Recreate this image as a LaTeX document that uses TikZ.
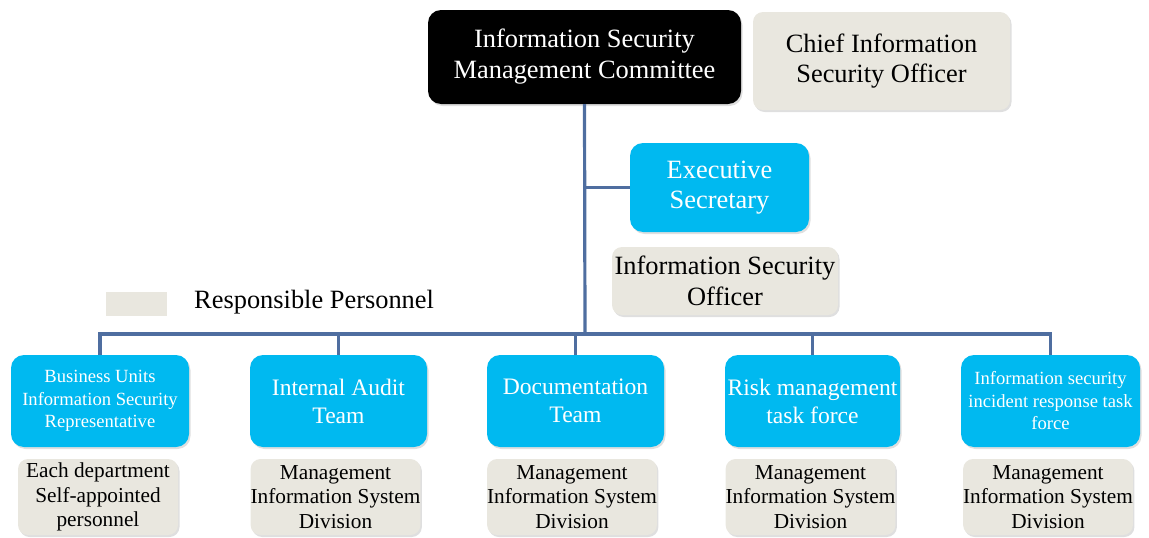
\documentclass[tikz,border=0pt]{standalone}
\usepackage{fontspec}
\setmainfont{Liberation Serif}
\usetikzlibrary{shadows}
\definecolor{boxcyan}{RGB}{0,185,240}
\definecolor{boxbeige}{RGB}{233,231,223}
\definecolor{linkblue}{RGB}{79,110,160}
\tikzset{
  base/.style={rounded corners=13pt, align=center, inner sep=0pt,
    drop shadow={opacity=0.25, shadow xshift=1.5pt, shadow yshift=-2pt}},
  topbox/.style={base, fill=black, text=white, font=\fontsize{26.4}{31}\selectfont},
  cyanbox/.style={base, fill=boxcyan, text=white},
  beigebox/.style={base, rounded corners=10pt, fill=boxbeige, text=black},
  bigtext/.style={font=\fontsize{26.4}{30.5}\selectfont},
  midtext/.style={font=\fontsize{23.6}{28}\selectfont},
  smalltext/.style={font=\fontsize{18.6}{22.5}\selectfont},
  divtext/.style={font=\fontsize{21.3}{24.5}\selectfont},
  link/.style={draw=linkblue, line width=3.2pt}
}
\begin{document}
\begin{tikzpicture}[x=1pt, y=-1pt]
\useasboundingbox (0,0) rectangle (1149,538);

% top level
\node[topbox, minimum width=313pt, minimum height=94pt] (com) at (584.5,57)
  {Information Security\\Management Committee};
\node[beigebox, bigtext, minimum width=257pt, minimum height=98pt] (ciso) at (881.5,61)
  {Chief Information\\Security Officer};

% executive secretary and its officer
\node[cyanbox, bigtext, minimum width=179pt, minimum height=89pt] (exec) at (719.5,187.5)
  {Executive\\Secretary};
\node[beigebox, bigtext, minimum width=226pt, minimum height=68pt] (iso) at (725,281)
  {Information Security\\Officer};

% legend
\node[fill=boxbeige, minimum width=61pt, minimum height=24pt, inner sep=0pt] (key) at (136.5,304) {};
\node[bigtext, anchor=west, inner sep=0pt] (keytext) at (194,302) {Responsible Personnel};

% teams
\node[cyanbox, smalltext, minimum width=178pt, minimum height=92pt] (b1) at (100,401)
  {Business Units\\Information Security\\Representative};
\node[cyanbox, midtext, minimum width=177pt, minimum height=92pt] (b2) at (338.5,401)
  {Internal Audit\\Team};
\node[cyanbox, midtext, minimum width=177pt, minimum height=92pt] (b3) at (575.5,401)
  {Documentation\\Team};
\node[cyanbox, midtext, minimum width=175pt, minimum height=92pt] (b4) at (812.5,401)
  {Risk management\\task force};
\node[cyanbox, smalltext, minimum width=179pt, minimum height=92pt] (b5) at (1050.5,401)
  {Information security\\incident response task\\force};

% responsible personnel of each team
\node[beigebox, divtext, minimum width=160pt, minimum height=76pt] (p1) at (98,497)
  {Each department\\Self-appointed\\personnel};
\node[beigebox, divtext, minimum width=161pt, minimum height=76pt] (p2) at (335.5,497)
  {Management\\Information System\\Division};
\node[beigebox, divtext, minimum width=162pt, minimum height=76pt] (p3) at (572,497)
  {Management\\Information System\\Division};
\node[beigebox, divtext, minimum width=161pt, minimum height=76pt] (p4) at (810.5,497)
  {Management\\Information System\\Division};
\node[beigebox, divtext, minimum width=162pt, minimum height=76pt] (p5) at (1048,497)
  {Management\\Information System\\Division};

% connectors
\coordinate (tee) at (585,187.5);
\coordinate (bus) at (585,334);
\draw[link] (com.south) -- (bus);
\draw[link] (tee) -- (exec.west);
\draw[link] (b1.north) |- (bus) -| (b5.north);
\draw[link] (b2.north) -- (b2.north |- bus);
\draw[link] (b3.north) -- (b3.north |- bus);
\draw[link] (b4.north) -- (b4.north |- bus);
\end{tikzpicture}
\end{document}
